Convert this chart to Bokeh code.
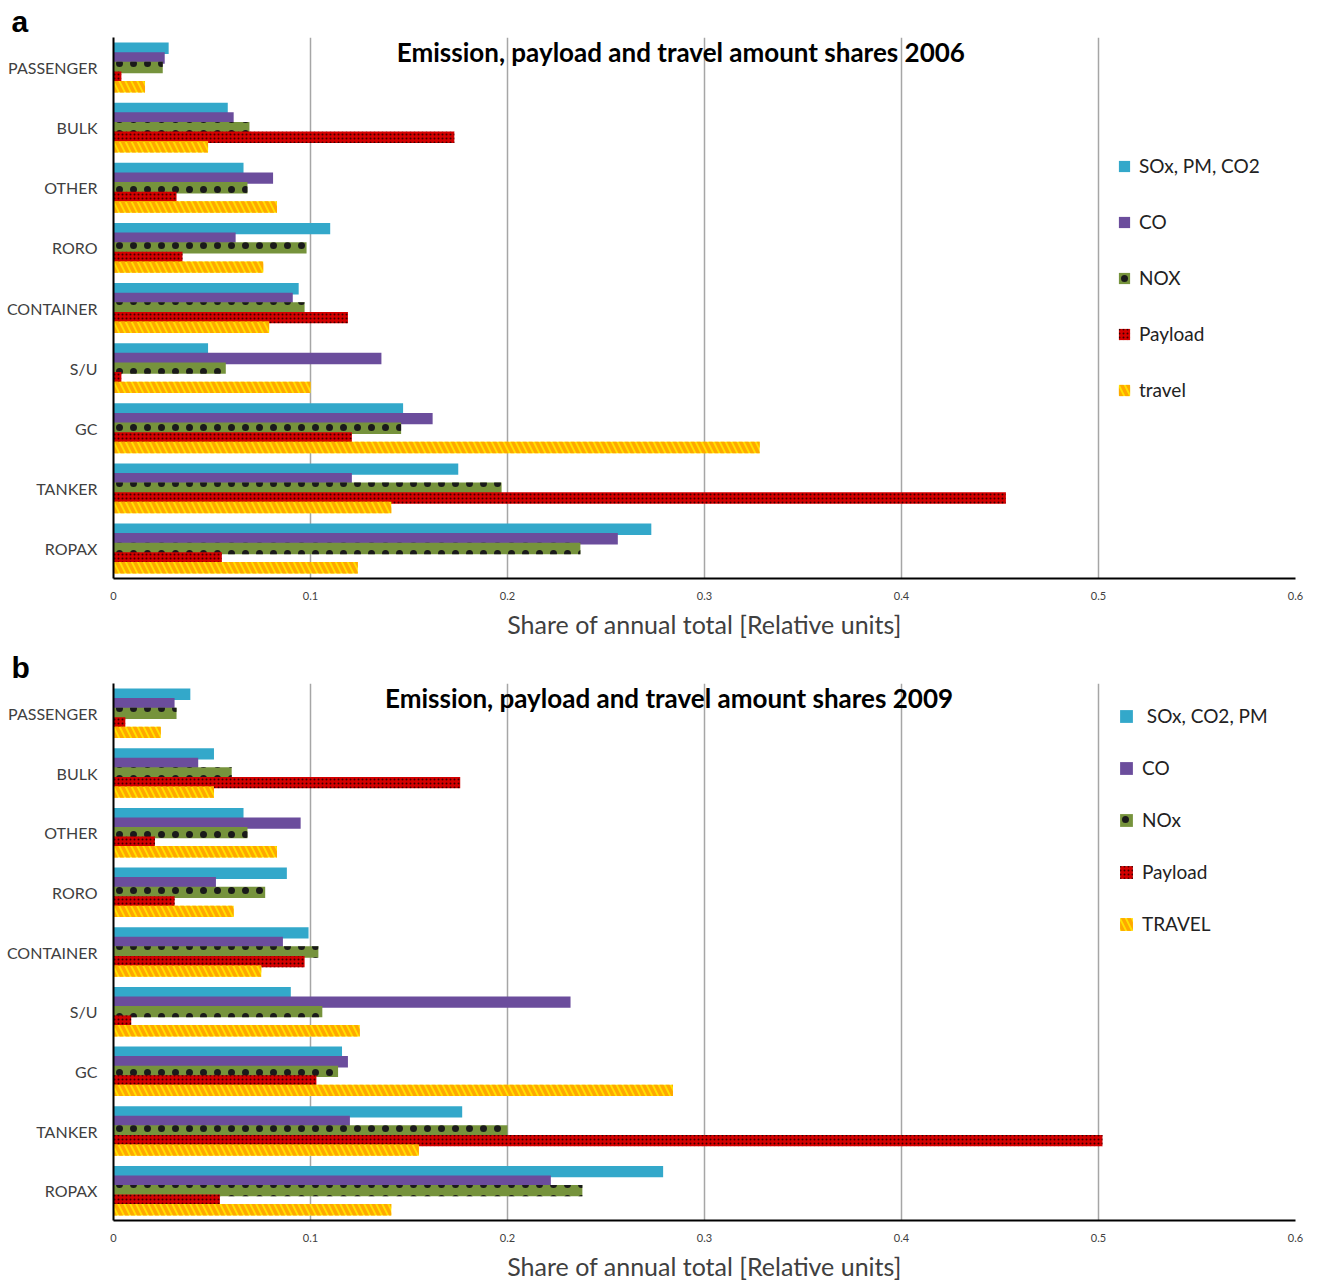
from bokeh.plotting import figure
from bokeh.models import ColumnDataSource, FactorRange, Range1d, FixedTicker, Label, Legend, LegendItem
from bokeh.transform import dodge
from bokeh.layouts import column
from bokeh.embed import file_html
from bokeh.resources import INLINE

categories = ["PASSENGER", "BULK", "OTHER", "RORO", "CONTAINER", "S/U", "GC", "TANKER", "ROPAX"]

sox_2006 = [0.028, 0.058, 0.066, 0.110, 0.094, 0.048, 0.147, 0.175, 0.273]
co_2006 = [0.026, 0.061, 0.081, 0.062, 0.091, 0.136, 0.162, 0.121, 0.256]
nox_2006 = [0.025, 0.069, 0.068, 0.098, 0.097, 0.057, 0.146, 0.197, 0.237]
payload_2006 = [0.004, 0.173, 0.032, 0.035, 0.119, 0.004, 0.121, 0.453, 0.055]
travel_2006 = [0.016, 0.048, 0.083, 0.076, 0.079, 0.100, 0.328, 0.141, 0.124]

sox_2009 = [0.039, 0.051, 0.066, 0.088, 0.099, 0.090, 0.116, 0.177, 0.279]
co_2009 = [0.031, 0.043, 0.095, 0.052, 0.086, 0.232, 0.119, 0.120, 0.222]
nox_2009 = [0.032, 0.060, 0.068, 0.077, 0.104, 0.106, 0.114, 0.200, 0.238]
payload_2009 = [0.006, 0.176, 0.021, 0.031, 0.097, 0.009, 0.103, 0.502, 0.054]
travel_2009 = [0.024, 0.051, 0.083, 0.061, 0.075, 0.125, 0.284, 0.155, 0.141]

labels_2006 = ["SOx, PM, CO2", "CO", "NOX", "Payload", "travel"]
labels_2009 = [" SOx, CO2, PM", "CO", "NOx", "Payload", "TRAVEL"]
x_ticks = [0, 0.1, 0.2, 0.3, 0.4, 0.5, 0.6]
title_2006 = "Emission, payload and travel amount shares 2006"
title_2009 = "Emission, payload and travel amount shares 2009"
x_label = "Share of annual total [Relative units]"

FONT = "Lato"

styles = [
    dict(fill_color="#33A8CA"),
    dict(fill_color="#6B4D9C"),
    dict(fill_color="#76933C", hatch_pattern="dot", hatch_color="#1a1a1a", hatch_scale=14, hatch_weight=1.1),
    dict(fill_color="#D40000", hatch_pattern="dot", hatch_color="#3a0000", hatch_scale=4, hatch_weight=2),
    dict(fill_color="#FFE100", hatch_pattern="left_diagonal_line", hatch_color="#FFA800", hatch_scale=12, hatch_weight=3.5),
]
offsets = [0.32, 0.16, 0.0, -0.16, -0.32]


def make_panel(letter, title, series, labels, top, frame_h, bottom, legend_loc, legend_spacing, title_x, glyph):
    keys = ["sox", "co", "nox", "payload", "travel"]
    src = ColumnDataSource(dict(cat=categories, **dict(zip(keys, series))))
    p = figure(y_range=FactorRange(factors=list(reversed(categories))), x_range=Range1d(0, 0.6),
               frame_width=1182, frame_height=frame_h,
               min_border_left=113, min_border_right=23, min_border_top=top, min_border_bottom=bottom,
               output_backend="svg", toolbar_location=None,
               title=letter)
    p.title.align = "left"
    p.title.offset = -102
    p.title.text_font = "Liberation Sans"
    p.title.text_font_style = "bold"
    p.title.text_font_size = "30px"
    p.title.text_color = "black"
    p.title.standoff = 0
    p.outline_line_color = None
    p.background_fill_color = "white"
    p.ygrid.grid_line_color = None
    p.xgrid.grid_line_color = "#A6A6A6"
    p.xgrid.grid_line_width = 1.5
    p.xaxis.ticker = FixedTicker(ticks=x_ticks)
    p.xaxis.major_tick_line_color = None
    p.xaxis.minor_tick_line_color = None
    p.xaxis.axis_line_color = "black"
    p.xaxis.axis_line_width = 2
    p.xaxis.major_label_text_font = FONT
    p.xaxis.major_label_text_font_size = "11px"
    p.xaxis.major_label_text_color = "#404040"
    p.xaxis.major_label_standoff = 7
    p.xaxis.axis_label = x_label
    p.xaxis.axis_label_text_font = FONT
    p.xaxis.axis_label_text_font_size = "25px"
    p.xaxis.axis_label_text_font_style = "normal"
    p.xaxis.axis_label_text_color = "#404040"
    p.xaxis.axis_label_standoff = 6
    p.yaxis.major_tick_line_color = None
    p.yaxis.minor_tick_line_color = None
    p.yaxis.axis_line_color = "black"
    p.yaxis.axis_line_width = 2
    p.yaxis.major_label_text_font = FONT
    p.yaxis.major_label_text_font_size = "16px"
    p.yaxis.major_label_text_color = "#404040"
    p.yaxis.major_label_standoff = 10

    items = []
    for k, off, st, lab in zip(keys, offsets, styles, labels):
        r = p.hbar(y=dodge("cat", off, range=p.y_range), left=0, right=k, height=0.19,
                   source=src, line_color=None, **st)
        items.append(LegendItem(label=lab, renderers=[r]))

    leg = Legend(items=items, location=legend_loc, orientation="vertical",
                 glyph_width=glyph, glyph_height=glyph, label_height=14, spacing=legend_spacing,
                 padding=0, margin=0, border_line_color=None, background_fill_alpha=0,
                 label_text_font=FONT, label_text_font_size="19px", label_text_color="#222222",
                 label_standoff=8)
    p.add_layout(leg)

    p.add_layout(Label(x=title_x, y=frame_h - 14, y_units="screen", text=title,
                       text_font=FONT, text_font_style="bold", text_font_size="26px",
                       text_align="center", text_baseline="middle", text_color="black"))
    return p


pa = make_panel("a", title_2006, [sox_2006, co_2006, nox_2006, payload_2006, travel_2006], labels_2006,
                37, 541, 67, (1004, 177), 33, 0.288, 14)
pb = make_panel("b", title_2009, [sox_2009, co_2009, nox_2009, payload_2009, travel_2009], labels_2009,
                38, 537, 62, (1005, 285), 29, 0.282, 16)

layout = column(pa, pb, spacing=0)
open("out.html", "w").write(file_html(layout, INLINE))
